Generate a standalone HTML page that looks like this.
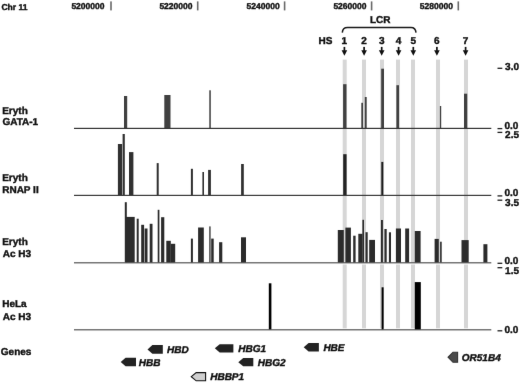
<!DOCTYPE html><html><head><meta charset="utf-8"><style>
html,body{margin:0;padding:0;background:#fff;width:520px;height:383px;overflow:hidden}
svg{display:block;filter:grayscale(1)}
text{font-family:"Liberation Sans",sans-serif;font-weight:bold;fill:#111;stroke:#111;stroke-width:0.4px;text-rendering:geometricPrecision}
</style></head><body>
<svg width="520" height="383" viewBox="0 0 520 383">
<defs><filter id="soft" x="0" y="0" width="520" height="383" filterUnits="userSpaceOnUse" color-interpolation-filters="sRGB"><feConvolveMatrix order="3" kernelMatrix="0.0028 0.0470 0.0028 0.0470 0.8008 0.0470 0.0028 0.0470 0.0028" divisor="1" edgeMode="duplicate" preserveAlpha="true"/></filter></defs>
<g filter="url(#soft)">
<rect x="0" y="0" width="520" height="383" fill="#fff"/>
<text x="1.45" y="10.0" font-size="8.5">Chr 11</text>
<text x="71.4" y="9.3" font-size="8.5">5200000</text>
<rect x="110.20" y="1.4" width="1.6" height="9" fill="#6a6a6a"/>
<text x="159.4" y="9.3" font-size="8.5">5220000</text>
<rect x="196.90" y="1.4" width="1.6" height="9" fill="#6a6a6a"/>
<text x="246.6" y="9.3" font-size="8.5">5240000</text>
<rect x="283.80" y="1.4" width="1.6" height="9" fill="#6a6a6a"/>
<text x="333.4" y="9.3" font-size="8.5">5260000</text>
<rect x="370.80" y="1.4" width="1.6" height="9" fill="#6a6a6a"/>
<text x="419.8" y="9.3" font-size="8.5">5280000</text>
<rect x="457.50" y="1.4" width="1.6" height="9" fill="#6a6a6a"/>
<rect x="342.70" y="59.6" width="4" height="203.2" fill="#d6d6d6"/>
<rect x="342.70" y="264.5" width="4" height="63.8" fill="#d6d6d6"/>
<rect x="362.00" y="59.6" width="4" height="203.2" fill="#d6d6d6"/>
<rect x="362.00" y="264.5" width="4" height="63.8" fill="#d6d6d6"/>
<rect x="380.00" y="59.6" width="4" height="203.2" fill="#d6d6d6"/>
<rect x="380.00" y="264.5" width="4" height="63.8" fill="#d6d6d6"/>
<rect x="396.00" y="59.6" width="4" height="203.2" fill="#d6d6d6"/>
<rect x="396.00" y="264.5" width="4" height="63.8" fill="#d6d6d6"/>
<rect x="411.00" y="59.6" width="4" height="203.2" fill="#d6d6d6"/>
<rect x="411.00" y="264.5" width="4" height="63.8" fill="#d6d6d6"/>
<rect x="436.00" y="59.6" width="4" height="203.2" fill="#d6d6d6"/>
<rect x="436.00" y="264.5" width="4" height="63.8" fill="#d6d6d6"/>
<rect x="464.00" y="59.6" width="4" height="203.2" fill="#d6d6d6"/>
<rect x="464.00" y="264.5" width="4" height="63.8" fill="#d6d6d6"/>
<rect x="124.0" y="96.0" width="3.2" height="32.4" fill="#404040"/>
<rect x="164.3" y="95.0" width="6.2" height="33.4" fill="#404040"/>
<rect x="209.2" y="90.3" width="1.7" height="38.1" fill="#555"/>
<rect x="343.1" y="84.2" width="3.4" height="44.2" fill="#404040"/>
<rect x="361.3" y="102.8" width="1.7" height="25.6" fill="#404040"/>
<rect x="364.8" y="97.0" width="1.9" height="31.4" fill="#404040"/>
<rect x="381.2" y="68.7" width="2.8" height="59.7" fill="#404040"/>
<rect x="396.4" y="85.2" width="2.6" height="43.2" fill="#404040"/>
<rect x="439.9" y="106.0" width="1.3" height="22.4" fill="#404040"/>
<rect x="464.0" y="93.7" width="3.2" height="34.7" fill="#404040"/>
<rect x="74" y="127.8" width="417.3" height="1.2" fill="#333"/>
<rect x="117.9" y="144.0" width="4.2" height="51.4" fill="#303030"/>
<rect x="122.6" y="134.0" width="2.2" height="61.4" fill="#303030"/>
<rect x="129.0" y="152.1" width="4.4" height="43.3" fill="#303030"/>
<rect x="156.7" y="163.1" width="2.0" height="32.3" fill="#303030"/>
<rect x="190.9" y="168.8" width="2.0" height="26.6" fill="#303030"/>
<rect x="202.4" y="172.0" width="1.6" height="23.4" fill="#303030"/>
<rect x="208.1" y="169.9" width="2.8" height="25.5" fill="#303030"/>
<rect x="241.1" y="164.0" width="2.7" height="31.4" fill="#303030"/>
<rect x="343.2" y="154.2" width="3.4" height="41.2" fill="#222"/>
<rect x="381.3" y="161.9" width="2.0" height="33.5" fill="#1a1a1a"/>
<rect x="74" y="194.8" width="417.3" height="1.2" fill="#3a3a3a"/>
<rect x="124.8" y="202.2" width="2.0" height="60.6" fill="#2b2b2b"/>
<rect x="126.0" y="216.9" width="8.7" height="45.9" fill="#2b2b2b"/>
<rect x="136.7" y="218.7" width="2.0" height="44.1" fill="#2b2b2b"/>
<rect x="141.2" y="224.8" width="2.9" height="38.0" fill="#2b2b2b"/>
<rect x="144.6" y="228.5" width="2.9" height="34.3" fill="#2b2b2b"/>
<rect x="149.7" y="223.8" width="2.8" height="39.0" fill="#2b2b2b"/>
<rect x="157.7" y="209.8" width="1.7" height="53.0" fill="#2b2b2b"/>
<rect x="161.1" y="217.2" width="3.2" height="45.6" fill="#2b2b2b"/>
<rect x="166.3" y="240.8" width="4.5" height="22.0" fill="#2b2b2b"/>
<rect x="170.6" y="243.8" width="4.6" height="19.0" fill="#2b2b2b"/>
<rect x="190.9" y="238.6" width="2.0" height="24.2" fill="#2b2b2b"/>
<rect x="198.1" y="227.5" width="5.7" height="35.3" fill="#2b2b2b"/>
<rect x="209.0" y="226.4" width="1.8" height="36.4" fill="#666"/>
<rect x="211.2" y="238.6" width="2.5" height="24.2" fill="#2b2b2b"/>
<rect x="219.1" y="242.2" width="3.2" height="20.6" fill="#2b2b2b"/>
<rect x="241.0" y="237.3" width="5.0" height="25.5" fill="#2b2b2b"/>
<rect x="337.8" y="230.0" width="6.0" height="32.8" fill="#2b2b2b"/>
<rect x="345.4" y="227.6" width="5.5" height="35.2" fill="#2b2b2b"/>
<rect x="353.2" y="235.7" width="2.4" height="27.1" fill="#2b2b2b"/>
<rect x="358.3" y="233.8" width="4.2" height="29.0" fill="#2b2b2b"/>
<rect x="362.4" y="219.8" width="1.6" height="43.0" fill="#2b2b2b"/>
<rect x="365.5" y="232.2" width="2.2" height="30.6" fill="#2b2b2b"/>
<rect x="369.2" y="239.9" width="5.8" height="22.9" fill="#2b2b2b"/>
<rect x="381.0" y="220.0" width="1.9" height="42.8" fill="#2b2b2b"/>
<rect x="384.4" y="229.0" width="2.3" height="33.8" fill="#2b2b2b"/>
<rect x="388.9" y="232.3" width="2.1" height="30.5" fill="#2b2b2b"/>
<rect x="395.9" y="228.5" width="5.1" height="34.3" fill="#2b2b2b"/>
<rect x="405.2" y="228.5" width="3.9" height="34.3" fill="#2b2b2b"/>
<rect x="414.8" y="231.0" width="5.8" height="31.8" fill="#2b2b2b"/>
<rect x="434.6" y="238.9" width="4.2" height="23.9" fill="#2b2b2b"/>
<rect x="440.1" y="241.7" width="1.6" height="21.1" fill="#2b2b2b"/>
<rect x="461.5" y="240.1" width="7.2" height="22.7" fill="#2b2b2b"/>
<rect x="483.4" y="244.2" width="4.0" height="18.6" fill="#2b2b2b"/>
<rect x="74" y="262.2" width="417.3" height="1.2" fill="#555"/>
<rect x="268.8" y="283.3" width="2.6" height="46.5" fill="#000"/>
<rect x="381.6" y="287.3" width="2.0" height="42.5" fill="#000"/>
<rect x="414.8" y="282.1" width="6.0" height="47.7" fill="#000"/>
<rect x="74" y="329.2" width="417.3" height="1.2" fill="#555"/>
<text x="2.2" y="114.0" font-size="10.0">Eryth</text>
<text x="2.4" y="125" font-size="10.0">GATA-1</text>
<text x="2.2" y="180.8" font-size="10.0">Eryth</text>
<text x="2.2" y="193" font-size="10.0">RNAP II</text>
<text x="2.2" y="245.0" font-size="10.0">Eryth</text>
<text x="2.8" y="256.5" font-size="10.0">Ac H3</text>
<text x="2.2" y="307" font-size="10.0">HeLa</text>
<text x="2.8" y="319.5" font-size="10.0">Ac H3</text>
<text x="0.8" y="355.0" font-size="10.0">Genes</text>
<text x="505.1" y="69.6" font-size="10.0">3.0</text>
<rect x="497.5" y="67.65" width="4.8" height="1.3" fill="#222"/>
<text x="504.5" y="128.5" font-size="10.0">0.0</text>
<rect x="497.5" y="127.95" width="4.8" height="1.3" fill="#222"/>
<text x="505.1" y="138" font-size="10.0">2.5</text>
<rect x="497.5" y="131.75" width="4.8" height="1.3" fill="#222"/>
<text x="504.5" y="196" font-size="10.0">0.0</text>
<rect x="497.5" y="195.25" width="4.8" height="1.3" fill="#222"/>
<text x="505.1" y="206" font-size="10.0">3.5</text>
<rect x="497.5" y="199.55" width="4.8" height="1.3" fill="#222"/>
<text x="504.5" y="264.3" font-size="10.0">0.0</text>
<rect x="497.5" y="262.65" width="4.8" height="1.3" fill="#222"/>
<text x="505.1" y="274.1" font-size="10.0">1.5</text>
<rect x="497.5" y="267.05" width="4.8" height="1.3" fill="#222"/>
<text x="504.5" y="333" font-size="10.0">0.0</text>
<rect x="497.5" y="330.15" width="4.8" height="1.3" fill="#222"/>
<path d="M342.3,32.6 Q342.6,27.4 347.5,27.4 L411,27.4 Q415.6,27.4 416,32.6" fill="none" stroke="#1a1a1a" stroke-width="1.5"/>
<text x="380.3" y="23" font-size="10" text-anchor="middle">LCR</text>
<text x="318.5" y="44" font-size="10">HS</text>
<text x="344.4" y="44" font-size="10" text-anchor="middle">1</text>
<rect x="343.55" y="46.9" width="1.7" height="4" fill="#111"/>
<path d="M341.60,50.2 L347.20,50.2 L344.40,55.8 Z" fill="#111"/>
<text x="364.1" y="44" font-size="10" text-anchor="middle">2</text>
<rect x="363.25" y="46.9" width="1.7" height="4" fill="#111"/>
<path d="M361.30,50.2 L366.90,50.2 L364.10,55.8 Z" fill="#111"/>
<text x="381.7" y="44" font-size="10" text-anchor="middle">3</text>
<rect x="380.85" y="46.9" width="1.7" height="4" fill="#111"/>
<path d="M378.90,50.2 L384.50,50.2 L381.70,55.8 Z" fill="#111"/>
<text x="398.6" y="44" font-size="10" text-anchor="middle">4</text>
<rect x="397.75" y="46.9" width="1.7" height="4" fill="#111"/>
<path d="M395.80,50.2 L401.40,50.2 L398.60,55.8 Z" fill="#111"/>
<text x="413.3" y="44" font-size="10" text-anchor="middle">5</text>
<rect x="412.45" y="46.9" width="1.7" height="4" fill="#111"/>
<path d="M410.50,50.2 L416.10,50.2 L413.30,55.8 Z" fill="#111"/>
<text x="436.9" y="44" font-size="10" text-anchor="middle">6</text>
<rect x="436.05" y="46.9" width="1.7" height="4" fill="#111"/>
<path d="M434.10,50.2 L439.70,50.2 L436.90,55.8 Z" fill="#111"/>
<text x="465.6" y="44" font-size="10" text-anchor="middle">7</text>
<rect x="464.75" y="46.9" width="1.7" height="4" fill="#111"/>
<path d="M462.80,50.2 L468.40,50.2 L465.60,55.8 Z" fill="#111"/>
<path d="M147.5,349.45 L152.40,345.1 L162.8,345.1 L162.8,353.8 L152.40,353.8 Z" fill="#222"/>
<text x="167.1" y="353" font-size="10" font-style="italic">HBD</text>
<path d="M120.7,362.00 L125.60,357.7 L136.0,357.7 L136.0,366.3 L125.60,366.3 Z" fill="#222"/>
<text x="138.7" y="366.0" font-size="10" font-style="italic">HBB</text>
<path d="M214.8,348.35 L219.70,344.2 L233.4,344.2 L233.4,352.5 L219.70,352.5 Z" fill="#222"/>
<text x="238.2" y="352" font-size="10" font-style="italic">HBG1</text>
<path d="M238.3,362.15 L243.20,358.0 L253.3,358.0 L253.3,366.3 L243.20,366.3 Z" fill="#222"/>
<text x="257.8" y="366.0" font-size="10" font-style="italic">HBG2</text>
<path d="M191.3,376.70 L196.20,372.6 L205.6,372.6 L205.6,380.8 L196.20,380.8 Z" fill="#cfcfcf" stroke="#111" stroke-width="1.1" stroke-linejoin="miter"/>
<text x="210.2" y="380" font-size="10" font-style="italic">HBBP1</text>
<path d="M303.7,347.30 L308.60,343.0 L318.9,343.0 L318.9,351.6 L308.60,351.6 Z" fill="#222"/>
<text x="323.4" y="351.1" font-size="10" font-style="italic">HBE</text>
<path d="M448.1,357.25 L453.00,352.2 L457.6,352.2 L457.6,362.3 L453.00,362.3 Z" fill="#4a4a4a" stroke="#333" stroke-width="1.1" stroke-linejoin="miter"/>
<text x="461.8" y="361" font-size="10" font-style="italic">OR51B4</text>
</g>
</svg></body></html>
